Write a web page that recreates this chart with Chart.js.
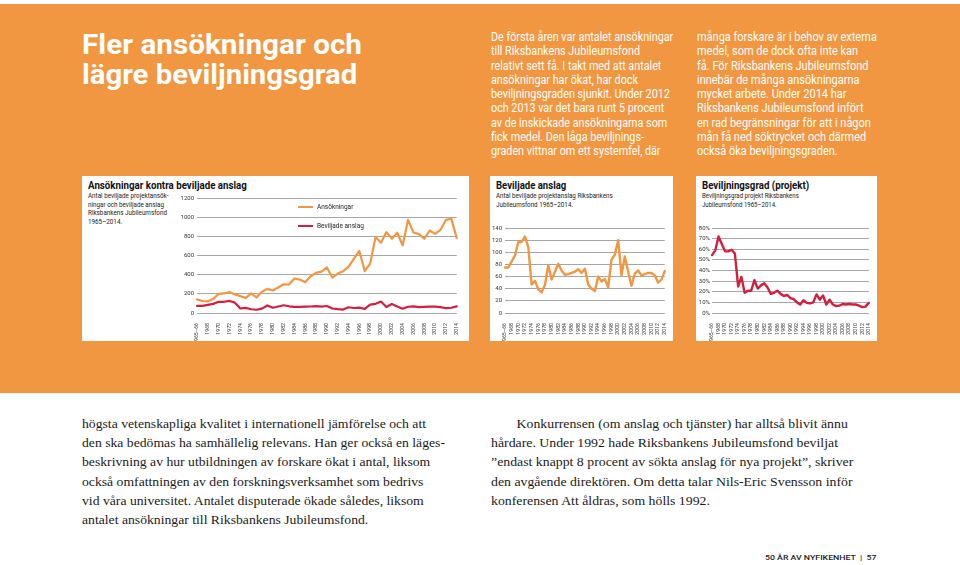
<!DOCTYPE html>
<html lang="sv">
<head>
<meta charset="utf-8">
<title>Fler ansökningar och lägre beviljningsgrad</title>
<script src="https://cdn.jsdelivr.net/npm/chart.js@4.4.1/dist/chart.umd.min.js"></script>
<style>
  body { margin: 0; width: 960px; height: 565px; background: #fff; position: relative; overflow: hidden; font-family: Roboto, "Liberation Sans", sans-serif; }
  .abs { position: absolute; white-space: nowrap; transform-origin: left top; }
  #band { position: absolute; left: 0; top: 4px; width: 960px; height: 389px; background: #f29741; }
  .panel { position: absolute; background: #fff; }
  .h1 { color: #fff; font-weight: 700; font-size: 28px; line-height: 28px; }
  .col { color: #fff; font-size: 12px; line-height: 14.25px; }
  .ptitle { font-weight: 700; font-size: 11.5px; line-height: 13px; color: #111; }
  .psub { font-size: 7px; line-height: 8.5px; color: #222; }
  .leg { font-size: 6.5px; color: #222; line-height: 8px; }
  .leg span { display: inline-block; width: 15px; height: 2px; vertical-align: middle; margin-right: 4px; }
  .serif { font-family: "Liberation Serif", "DejaVu Serif", serif; font-size: 13.5px; line-height: 19.2px; color: #1a1a1a; }
  canvas { position: absolute; }
</style>
</head>
<body>
<div id="band"></div>

<div class="abs h1" style="left:82px; top:31px;" data-w="280">Fler ansökningar och</div>
<div class="abs h1" style="left:82px; top:61px;" data-w="275">lägre beviljningsgrad</div>

<div class="abs col" style="left:491px; top:30px;" data-w="182">De första åren var antalet ansökningar<br>till Riksbankens Jubileumsfond<br>relativt sett få. I takt med att antalet<br>ansökningar har ökat, har dock<br>beviljningsgraden sjunkit. Under 2012<br>och 2013 var det bara runt 5 procent<br>av de inskickade ansökningarna som<br>fick medel. Den låga beviljnings-<br>graden vittnar om ett systemfel, där</div>

<div class="abs col" style="left:697px; top:30px;" data-w="180">många forskare är i behov av externa<br>medel, som de dock ofta inte kan<br>få. För Riksbankens Jubileumsfond<br>innebär de många ansökningarna<br>mycket arbete. Under 2014 har<br>Riksbankens Jubileumsfond infört<br>en rad begränsningar för att i någon<br>mån få ned söktrycket och därmed<br>också öka beviljningsgraden.</div>

<div class="panel" style="left:82px; top:176px; width:387px; height:165px;"></div>
<div class="panel" style="left:490px; top:176px; width:183px; height:165px;"></div>
<div class="panel" style="left:696px; top:176px; width:181px; height:165px;"></div>

<div class="abs ptitle" style="left:88px; top:179px;" data-w="159">Ansökningar kontra beviljade anslag</div>
<div class="abs psub" style="left:88px; top:192px;" data-w="80">Antal beviljade projektansök-<br>ningar och beviljade anslag<br>Riksbankens Jubileumsfond<br>1965–2014.</div>

<div class="abs ptitle" style="left:496px; top:179px;" data-w="70">Beviljade anslag</div>
<div class="abs psub" style="left:496px; top:192px;" data-w="117">Antal beviljade projektanslag Riksbankens<br>Jubileumsfond 1965–2014.</div>

<div class="abs ptitle" style="left:702px; top:179px;" data-w="107">Beviljningsgrad (projekt)</div>
<div class="abs psub" style="left:702px; top:192px;" data-w="97">Beviljningsgrad projekt Riksbankens<br>Jubileumsfond 1965–2014.</div>

<canvas id="c1" style="left:165px; top:190px;" width="300" height="151"></canvas>
<canvas id="c2" style="left:485px; top:215px;" width="188" height="126"></canvas>
<canvas id="c3" style="left:690px; top:215px;" width="187" height="126"></canvas>

<div class="abs leg" style="left:298px; top:203px;"><span style="background:#f29741"></span>Ansökningar</div>
<div class="abs leg" style="left:298px; top:222px;"><span style="background:#d21f3f"></span>Beviljade anslag</div>

<div class="abs serif" style="left:82px; top:414px;" data-w="363">högsta vetenskapliga kvalitet i internationell jämförelse och att<br>den ska bedömas ha samhällelig relevans. Han ger också en läges-<br>beskrivning av hur utbildningen av forskare ökat i antal, liksom<br>också omfattningen av den forskningsverksamhet som bedrivs<br>vid våra universitet. Antalet disputerade ökade således, liksom<br>antalet ansökningar till Riksbankens Jubileumsfond.</div>

<div class="abs serif" style="left:491px; top:414px;" data-w="362"><span style="display:inline-block; width:25px;"></span>Konkurrensen (om anslag och tjänster) har alltså blivit ännu<br>hårdare. Under 1992 hade Riksbankens Jubileumsfond beviljat<br>”endast knappt 8 procent av sökta anslag för nya projekt”, skriver<br>den avgående direktören. Om detta talar Nils-Eric Svensson inför<br>konferensen Att åldras, som hölls 1992.</div>

<div class="abs" style="left:765px; top:553px; font-size:7.5px; font-weight:500; color:#222;" data-w="112">50 ÅR AV NYFIKENHET &nbsp;|&nbsp; 57</div>

<script>
// årtal (x-axeln)
const years = ["1965–66", "1967", "1968", "1969", "1970", "1971", "1972", "1973", "1974", "1975",
  "1976", "1977", "1978", "1979", "1980", "1981", "1982", "1983", "1984", "1985",
  "1986", "1987", "1988", "1989", "1990", "1991", "1992", "1993", "1994", "1995",
  "1996", "1997", "1998", "1999", "2000", "2001", "2002", "2003", "2004", "2005",
  "2006", "2007", "2008", "2009", "2010", "2011", "2012", "2013", "2014"];

// antal ansökningar
const ansokningar = [142, 125, 122, 145, 200, 204, 218, 194, 176, 156,
  204, 163, 221, 252, 235, 266, 300, 297, 360, 349,
  322, 384, 418, 432, 475, 370, 411, 436, 481, 567,
  647, 436, 515, 792, 733, 844, 775, 837, 705, 972,
  840, 823, 775, 861, 826, 868, 972, 982, 781];

// antal beviljade anslag
const beviljade = [75, 75, 85, 95, 117, 117, 126, 108, 47, 53,
  39, 34, 46, 79, 55, 68, 81, 70, 63, 64,
  66, 68, 72, 66, 73, 47, 40, 36, 60, 52,
  56, 42, 88, 96, 120, 62, 93, 68, 45, 65,
  70, 62, 64, 66, 66, 62, 50, 55, 69];

// beviljningsgrad i procent
const grad = [54.5, 59, 72, 65, 58, 58, 59.5, 56, 25, 34,
  19, 21, 21, 31, 23, 26, 28, 24, 18, 19,
  21, 18, 16, 17, 14, 13, 10, 8, 12, 9.5,
  9, 10, 17.5, 12.5, 16.5, 8, 12.5, 8, 6.5, 7,
  8.5, 8, 8.5, 8, 8, 7, 5.5, 6, 9.5];

const orange = "#f29741";
const red = "#d21f3f";

// tryck ihop texterna till samma bredd som i originalet
document.querySelectorAll("[data-w]").forEach(function (el) {
  el.style.transform = "scaleX(" + (el.dataset.w / el.offsetWidth) + ")";
});

function makeChart(id, datasets, yOpts, yWidth, pad) {
  return new Chart(document.getElementById(id), {
    type: "line",
    data: { labels: years, datasets: datasets },
    options: {
      responsive: false,
      animation: false,
      events: [],
      layout: { padding: pad },
      plugins: { legend: { display: false }, tooltip: { enabled: false } },
      elements: { point: { radius: 0 }, line: { tension: 0, borderCapStyle: "round", borderJoinStyle: "round" } },
      scales: {
        x: {
          offset: false,
          grid: { display: false },
          border: { display: false },
          ticks: {
            autoSkip: false, maxRotation: 90, minRotation: 90, padding: 2,
            color: "#333", font: { size: 5.2, family: "Roboto" },
            callback: function (v, i) { return i % 2 === 0 ? years[i] : ""; }
          },
          afterFit: function (s) { s.height = 28; }
        },
        y: Object.assign({
          grid: { color: "#8e8e8e", lineWidth: 0.8, drawTicks: false },
          border: { display: false },
          afterFit: function (s) { s.width = yWidth; }
        }, yOpts)
      }
    }
  });
}

function plain(v) { return String(v); }

makeChart("c1", [
  { label: "Ansökningar", data: ansokningar, borderColor: orange, borderWidth: 2.2 },
  { label: "Beviljade anslag", data: beviljade, borderColor: red, borderWidth: 2.2 }
], {
  min: 0, max: 1200,
  ticks: { stepSize: 200, padding: 3, color: "#333", font: { size: 6, family: "Roboto" }, callback: plain }
}, 32, { top: 8, right: 4, left: 0, bottom: 0 });

makeChart("c2", [
  { label: "Beviljade anslag", data: beviljade, borderColor: orange, borderWidth: 2.4 }
], {
  min: 0, max: 140,
  ticks: { stepSize: 20, padding: 3, color: "#333", font: { size: 6, family: "Roboto" }, callback: plain }
}, 20, { top: 13, right: 4, left: 0, bottom: 0 });

makeChart("c3", [
  { label: "Beviljningsgrad", data: grad, borderColor: red, borderWidth: 2.4 }
], {
  min: 0, max: 80,
  ticks: { stepSize: 10, padding: 2, color: "#333", font: { size: 6, family: "Roboto" },
    callback: function (v) { return v + "%"; } }
}, 22, { top: 13, right: 5, left: 0, bottom: 0 });
</script>
</body>
</html>
